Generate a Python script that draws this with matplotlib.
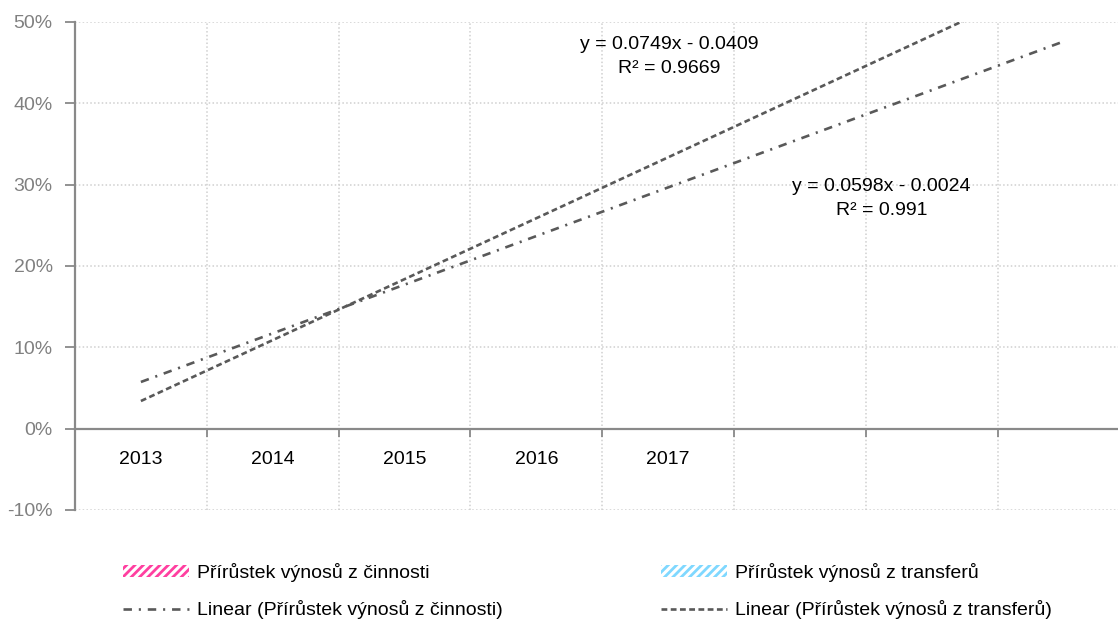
import numpy as np
import matplotlib
matplotlib.use("Agg")
from matplotlib import pyplot as plt
from matplotlib import font_manager as fm
from matplotlib.patches import Patch
from matplotlib.lines import Line2D
from matplotlib.ticker import FixedLocator

FS = 14

def fp(size=FS):
    return fm.FontProperties(family=['Liberation Sans', 'DejaVu Sans'], size=size)

plt.rcParams['font.family'] = ['Liberation Sans', 'DejaVu Sans']
plt.rcParams['hatch.linewidth'] = 2.0

# category axis (8 slots, last three empty)
years = ['2013', '2014', '2015', '2016', '2017', '', '', '']
series = ['Přírůstek výnosů z činnosti', 'Přírůstek výnosů z transferů']
# linear trend coefficients shown in the chart (y = a*x + b)
slope = [0.0598, 0.0749]
intercept = [-0.0024, -0.0409]
r2 = [0.991, 0.9669]
trend_x = [1, 8]
yticks = [-0.1, 0.0, 0.1, 0.2, 0.3, 0.4, 0.5]

line_col = '#595959'
axis_col = '#898989'
grid_col = '#D0D0D0'
hatch_cols = ['#FF3FA0', '#7FD8FF']
dash_act = (3.2, 2.6, 0.8, 2.6)
dash_tr = (2.2, 1.3)

fig = plt.figure(figsize=(11.18, 6.24), dpi=100)
W, H = 1118, 624
cat_w = 131.8
ax = fig.add_axes([75 / W, (H - 510) / H, 8 * cat_w / W, (510 - 22) / H])

xs = np.array(trend_x, dtype=float)
for a, b, d in zip(slope, intercept, [dash_act, dash_tr]):
    ax.plot(xs, a * xs + b, color=line_col, lw=1.9, dashes=d)

ax.set_xlim(0.5, 8.5)
ax.set_ylim(-0.1, 0.5)

# ticks: boundaries are major (grid + tick marks), centres carry labels
ax.xaxis.set_major_locator(FixedLocator(np.arange(0.5, 9.0, 1.0)))
ax.xaxis.set_minor_locator(FixedLocator(np.arange(1, 9)))
ax.set_xticklabels([], minor=False)
ax.set_xticklabels(years, minor=True)
ax.tick_params(axis='x', which='major', length=6, width=1.3, color=axis_col, direction='out')
ax.tick_params(axis='x', which='minor', length=0, pad=16, labelcolor='black', labelsize=FS)

ax.set_yticks(yticks)
ax.set_yticklabels([f'{v * 100:.0f}%' for v in yticks])
ax.tick_params(axis='y', length=7, width=1.3, color=axis_col, pad=9, labelcolor='#808080', labelsize=FS)

ax.grid(True, which='major', color=grid_col, linestyle=(0, (1, 1.5)), lw=1.1)
ax.set_axisbelow(True)

for s in ['top', 'right']:
    ax.spines[s].set_visible(False)
ax.spines['bottom'].set_position(('data', 0))
for s in ['left', 'bottom']:
    ax.spines[s].set_color(axis_col)
    ax.spines[s].set_linewidth(1.6)

# trend equations
ax.text(5.01, 0.458, f'y = {slope[1]}x - {abs(intercept[1])}\nR² = {r2[1]}',
        ha='center', va='center', fontproperties=fp(), linespacing=1.55)
ax.text(6.62, 0.283, f'y = {slope[0]}x - {abs(intercept[0])}\nR² = {r2[0]}',
        ha='center', va='center', fontproperties=fp(), linespacing=1.6)

# legend: two columns placed separately
for i, x0 in enumerate([107, 645]):
    h = [Patch(facecolor='white', edgecolor=hatch_cols[i], hatch='////', lw=0),
         Line2D([], [], color=line_col, lw=1.9, dashes=[dash_act, dash_tr][i])]
    lab = [series[i], f'Linear ({series[i]})']
    fig.legend(h, lab, loc='center left', bbox_to_anchor=(x0 / W, 1 - 591 / H),
               frameon=False, prop=fp(), handlelength=3.4, handleheight=0.6,
               handletextpad=0.45, labelspacing=0.95, borderpad=0.3)

fig.savefig('out.png', dpi=100)
